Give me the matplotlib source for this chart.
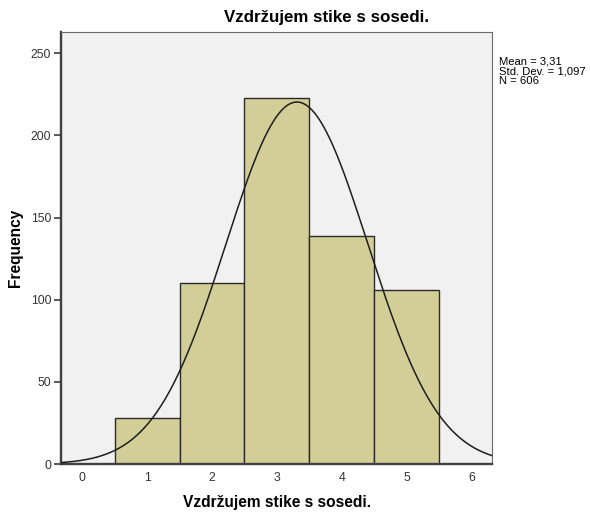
import matplotlib.pyplot as plt
import numpy as np

# Histogram data
categories = [1, 2, 3, 4, 5]
counts = [28, 110, 223, 139, 106]
mean_val = 3.31
std_val = 1.097
n_total = 606
stats_lines = ['Mean = 3,31', 'Std. Dev. = 1,097', 'N = 606']
x_ticks = [0, 1, 2, 3, 4, 5, 6]
y_ticks = [0, 50, 100, 150, 200, 250]

plt.rcParams['font.family'] = ['Liberation Sans', 'DejaVu Sans']

fig = plt.figure(figsize=(5.9, 5.17), dpi=100)
ax = fig.add_axes([0.1034, 0.1025, 0.7305, 0.8356])
ax.set_facecolor('#f0f1f0')

ax.bar(categories, counts, width=1.0, color='#d3ce97', edgecolor='#2b2b2b', linewidth=1.0, zorder=2)

# normal curve scaled to counts
xs = np.linspace(-0.4, 6.4, 400)
ys = n_total * 1.0 / (std_val * np.sqrt(2 * np.pi)) * np.exp(-0.5 * ((xs - mean_val) / std_val) ** 2)
ax.plot(xs, ys, color='#1e1e1e', linewidth=1.1, zorder=3)

ax.set_xlim(-0.33, 6.32)
ax.set_ylim(0, 263)
ax.set_xticks(x_ticks)
ax.set_yticks(y_ticks)
ax.tick_params(axis='both', labelsize=8.8, length=5, width=1.2, color='#3c3c3c',
               labelcolor='#333333', pad=2)
ax.tick_params(axis='x', length=0, pad=6)

for side in ['left', 'bottom']:
    ax.spines[side].set_color('#404040')
    ax.spines[side].set_linewidth(1.7)
for side in ['top', 'right']:
    ax.spines[side].set_color('#6a6a6a')
    ax.spines[side].set_linewidth(0.8)

fig.text(0.553, 0.967, 'Vzdržujem stike s sosedi.', fontsize=12.2, fontweight='bold',
         ha='center', va='center')
ax.set_xlabel('Vzdržujem stike s sosedi.', fontsize=11.2, fontweight='bold', labelpad=8)
ax.set_ylabel('Frequency', fontsize=11.2, fontweight='bold')
ax.yaxis.set_label_coords(-0.088, 0.5)

fig.text(0.846, 0.890, '\n'.join(stats_lines), fontsize=8.1, va='top', ha='left', linespacing=0.92)

plt.savefig('out.png', dpi=100)
